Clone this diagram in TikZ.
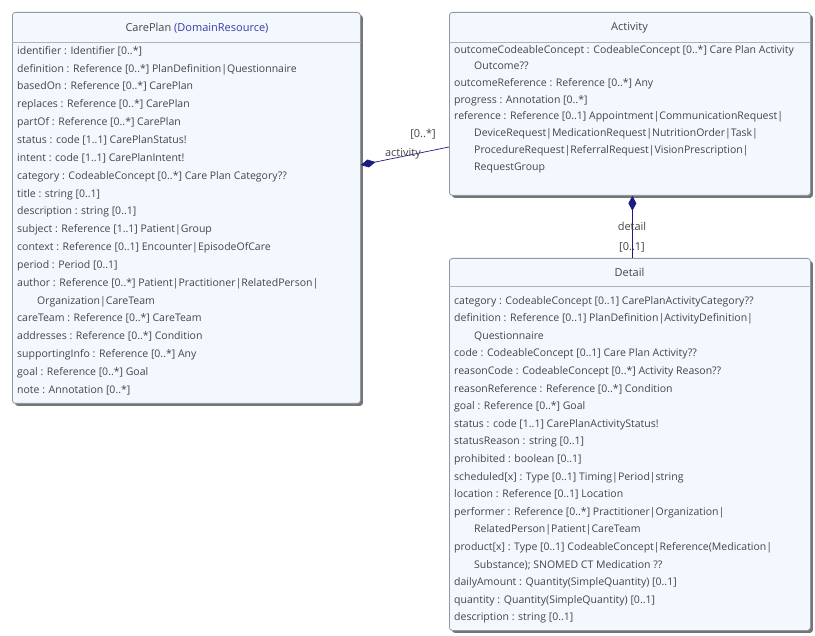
\documentclass[tikz,border=0pt]{standalone}
\usepackage{fontspec}
\setmainfont{Open Sans}
\usetikzlibrary{shadows,arrows.meta}
\definecolor{boxfill}{HTML}{F2F8FD}
\definecolor{boxline}{HTML}{9098A0}
\definecolor{txt}{HTML}{454545}
\definecolor{dr}{HTML}{3A3AA8}
\definecolor{navy}{HTML}{1C1C80}
\tikzset{
  umlbox/.style={draw=boxline, fill=boxfill, line width=0.8pt, rounded corners=3pt,
    anchor=north west, inner sep=0pt,
    drop shadow={shadow xshift=2.5pt, shadow yshift=-2.5pt, fill=black!60, opacity=0.9}},
  sepline/.style={draw=black!30, line width=0.8pt},
  titletext/.style={font=\fontsize{11}{13}\selectfont, text=txt, inner sep=0pt},
  bodytext/.style={text=txt, align=left, inner sep=0pt, anchor=north west},
  lbl/.style={font=\fontsize{11}{13}\selectfont, text=txt, inner sep=0pt},
  assoc/.style={draw=navy, line width=0.7pt},
  comp/.style={-{Diamond[length=15pt,width=8pt]}, navy},
}
\newcommand{\ind}{\hspace*{20pt}}
\begin{document}
\begin{tikzpicture}[x=1pt,y=-1pt]
\useasboundingbox (0,0) rectangle (815,636);
% boxes
\node[umlbox, minimum width=348pt, minimum height=391pt] (careplan) at (12,12) {};
\node[umlbox, minimum width=361pt, minimum height=183pt] (activity) at (449,12) {};
\node[umlbox, minimum width=361pt, minimum height=372pt] (detail) at (449,258) {};
% header separators
\draw[sepline] (careplan.west |- 0,42) -- (careplan.east |- 0,42);
\draw[sepline] (activity.west |- 0,42) -- (activity.east |- 0,42);
\draw[sepline] (detail.west |- 0,286) -- (detail.east |- 0,286);
% titles
\node[titletext] (cptitle) at (197,28) {CarePlan \textcolor{dr}{(DomainResource)}};
\node[titletext] (acttitle) at (629.5,28) {Activity};
\node[titletext] (dettitle) at (629.5,272) {Detail};
% bodies
\node[bodytext, font=\fontsize{10.5}{17.85}\selectfont] (cpbody) at (17,46) {%
identifier : Identifier [0..*]\\
definition : Reference [0..*] PlanDefinition|Questionnaire\\
basedOn : Reference [0..*] CarePlan\\
replaces : Reference [0..*] CarePlan\\
partOf : Reference [0..*] CarePlan\\
status : code [1..1] CarePlanStatus!\\
intent : code [1..1] CarePlanIntent!\\
category : CodeableConcept [0..*] Care Plan Category??\\
title : string [0..1]\\
description : string [0..1]\\
subject : Reference [1..1] Patient|Group\\
context : Reference [0..1] Encounter|EpisodeOfCare\\
period : Period [0..1]\\
author : Reference [0..*] Patient|Practitioner|RelatedPerson|\\
\ind Organization|CareTeam\\
careTeam : Reference [0..*] CareTeam\\
addresses : Reference [0..*] Condition\\
supportingInfo : Reference [0..*] Any\\
goal : Reference [0..*] Goal\\
note : Annotation [0..*]};
\node[bodytext, font=\fontsize{10.5}{16.7}\selectfont] (actbody) at (454,45) {%
outcomeCodeableConcept : CodeableConcept [0..*] Care Plan Activity\\
\ind Outcome??\\
outcomeReference : Reference [0..*] Any\\
progress : Annotation [0..*]\\
reference : Reference [0..1] Appointment|CommunicationRequest|\\
\ind DeviceRequest|MedicationRequest|NutritionOrder|Task|\\
\ind ProcedureRequest|ReferralRequest|VisionPrescription|\\
\ind RequestGroup};
\node[bodytext, font=\fontsize{10.5}{17.6}\selectfont] (detbody) at (454,296) {%
category : CodeableConcept [0..1] CarePlanActivityCategory??\\
definition : Reference [0..1] PlanDefinition|ActivityDefinition|\\
\ind Questionnaire\\
code : CodeableConcept [0..1] Care Plan Activity??\\
reasonCode : CodeableConcept [0..*] Activity Reason??\\
reasonReference : Reference [0..*] Condition\\
goal : Reference [0..*] Goal\\
status : code [1..1] CarePlanActivityStatus!\\
statusReason : string [0..1]\\
prohibited : boolean [0..1]\\
scheduled[x] : Type [0..1] Timing|Period|string\\
location : Reference [0..1] Location\\
performer : Reference [0..*] Practitioner|Organization|\\
\ind RelatedPerson|Patient|CareTeam\\
product[x] : Type [0..1] CodeableConcept|Reference(Medication|\\
\ind Substance); SNOMED CT Medication ??\\
dailyAmount : Quantity(SimpleQuantity) [0..1]\\
quantity : Quantity(SimpleQuantity) [0..1]\\
description : string [0..1]};
% connectors
\coordinate (actin) at (activity.west |- 0,147);
\coordinate (cpout) at (careplan.east |- 0,165);
\draw[assoc, comp] (actin) -- (cpout);
\coordinate (detin) at ([xshift=2.5pt]detail.north);
\coordinate (actout) at ([xshift=2.5pt]activity.south);
\draw[assoc, comp] (detin) -- (actout);
% labels
\node[lbl] (mult1) at (423,134) {[0..*]};
\node[lbl] (role1) at (403,154) {activity};
\node[lbl] (role2) at (632,226) {detail};
\node[lbl] (mult2) at (632,247) {[0..1]};
\end{tikzpicture}
\end{document}
